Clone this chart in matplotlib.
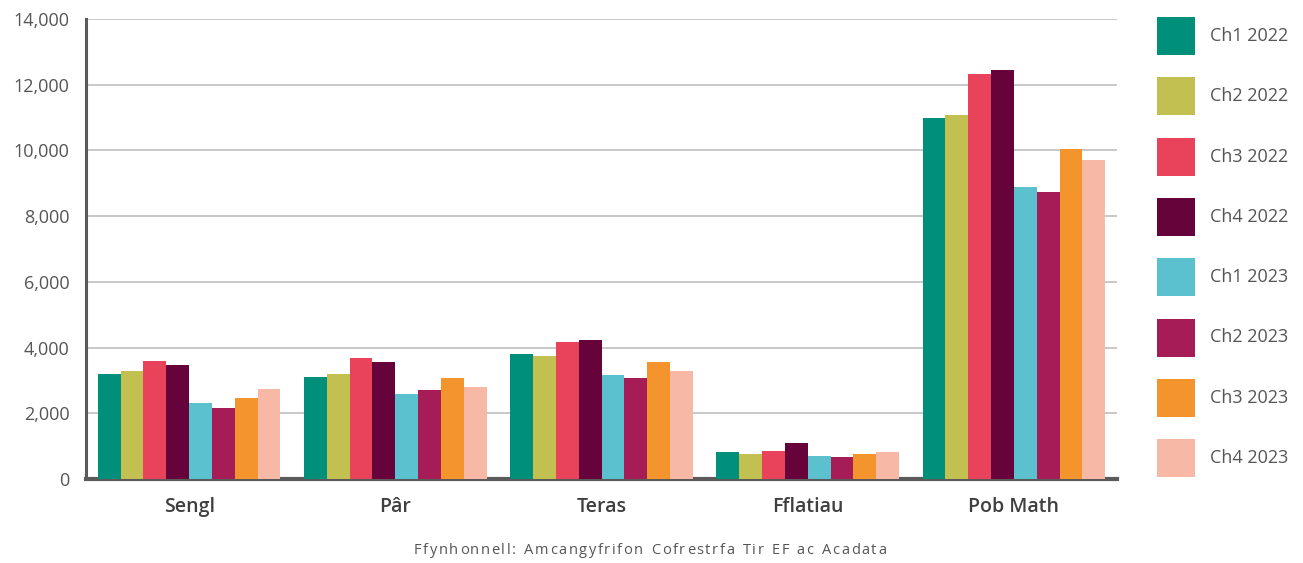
import matplotlib
matplotlib.use("Agg")
import matplotlib.pyplot as plt
import numpy as np
from matplotlib.patches import Rectangle
from matplotlib.ticker import FuncFormatter

plt.rcParams['font.family'] = ['Open Sans', 'DejaVu Sans']

categories = ["Sengl", "Pâr", "Teras", "Fflatiau", "Pob Math"]
series_labels = ["Ch1 2022", "Ch2 2022", "Ch3 2022", "Ch4 2022",
                 "Ch1 2023", "Ch2 2023", "Ch3 2023", "Ch4 2023"]

ch1_2022 = [3200, 3100, 3810, 810, 11000]
ch2_2022 = [3290, 3190, 3750, 750, 11090]
ch3_2022 = [3600, 3690, 4180, 840, 12340]
ch4_2022 = [3470, 3560, 4240, 1090, 12460]
ch1_2023 = [2300, 2580, 3160, 690, 8880]
ch2_2023 = [2150, 2700, 3070, 660, 8730]
ch3_2023 = [2480, 3070, 3560, 750, 10050]
ch4_2023 = [2730, 2790, 3290, 810, 9710]

series_values = [ch1_2022, ch2_2022, ch3_2022, ch4_2022,
                 ch1_2023, ch2_2023, ch3_2023, ch4_2023]
colors = ["#008f7a", "#c3c052", "#e8435a", "#66033a",
          "#5bc1cf", "#a61c56", "#f3942c", "#f7b9a5"]

y_ticks = [0, 2000, 4000, 6000, 8000, 10000, 12000, 14000]
source_text = "Ffynhonnell: Amcangyfrifon Cofrestrfa Tir EF ac Acadata"

W, H = 1303, 563
fig = plt.figure(figsize=(W / 100, H / 100), dpi=100)
ax = fig.add_axes([86 / W, 1 - 479 / H, (1117 - 86) / W, (479 - 19) / H])

n = len(series_values)
x = np.arange(len(categories))
group_w = 0.885
bar_w = group_w / n
for i, (vals, col, lab) in enumerate(zip(series_values, colors, series_labels)):
    offs = -group_w / 2 + bar_w * (i + 0.5)
    ax.bar(x + offs, vals, width=bar_w, color=col, label=lab, linewidth=0, zorder=3)

ax.set_xlim(-0.5, len(categories) - 0.5)
ax.set_ylim(0, 14000)
ax.set_yticks(y_ticks)
ax.yaxis.set_major_formatter(FuncFormatter(lambda v, p: f"{int(v):,}"))
ax.set_xticks(x)
ax.set_xticklabels(categories, fontsize=14, fontweight='semibold', color='#3f3f3f')
ax.tick_params(axis='x', length=0, pad=13)
ax.tick_params(axis='y', length=0, pad=12, labelsize=13, labelcolor='#555555')

ax.grid(axis='y', color='#c4c4c4', linewidth=1.3, zorder=0)
ax.set_axisbelow(True)
for s in ['top', 'right']:
    ax.spines[s].set_visible(False)
ax.spines['left'].set_color('#5a5a5a')
ax.spines['left'].set_linewidth(2.2)
ax.spines['bottom'].set_color('#5a5a5a')
ax.spines['bottom'].set_linewidth(3)

# legend drawn as a column of squares with labels
sq = 38
for i, (lab, col) in enumerate(zip(series_labels, colors)):
    cy = 36 + i * 60.3
    fig.add_artist(Rectangle((1157 / W, 1 - (cy + sq / 2) / H), sq / W, sq / H,
                             transform=fig.transFigure, color=col, linewidth=0))
    fig.text(1210 / W, 1 - cy / H, lab, fontsize=13, color='#555555',
             va='center', ha='left')

# source line, set with extra letter spacing
renderer = fig.canvas.get_renderer()
src_size = 10.5
tracking = 1.6  # extra pixels after each character
pieces = []
total = 0.0
for ch in source_text:
    t = fig.text(0, 0, ch if ch != " " else "n", fontsize=src_size)
    w = t.get_window_extent(renderer).width
    t.remove()
    if ch == " ":
        w *= 0.55
    pieces.append((ch, w))
    total += w + tracking
total -= tracking
xpos = 650 - total / 2
for ch, w in pieces:
    if ch != " ":
        fig.text(xpos / W, 1 - 551 / H, ch, fontsize=src_size, color='#555555',
                 ha='left', va='center')
    xpos += w + tracking

fig.savefig("out.png", dpi=100)
